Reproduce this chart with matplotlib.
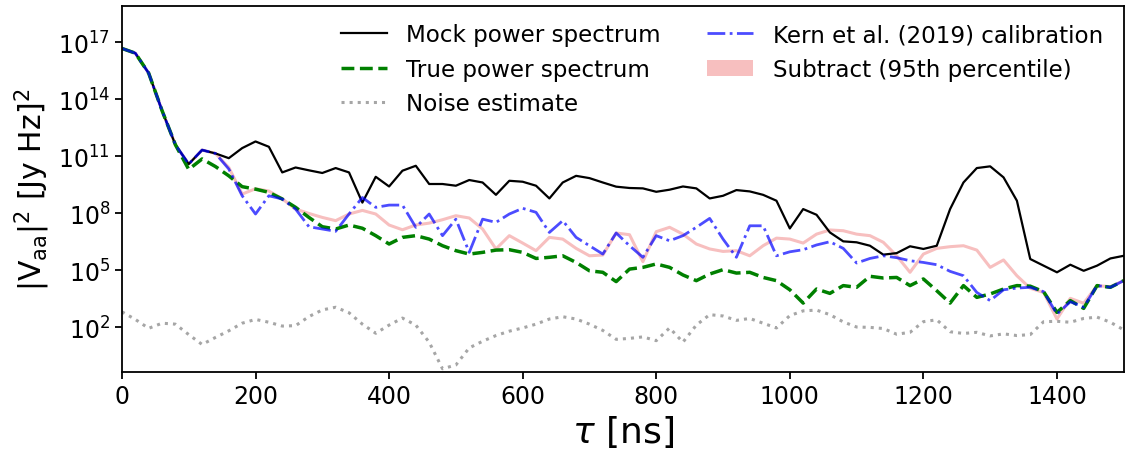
import matplotlib
matplotlib.use('Agg')
import matplotlib.pyplot as plt
from matplotlib.patches import Patch
import numpy as np

# delay axis (ns), one sample every 20 ns
tau = np.arange(0, 1501, 20)

# log10 of |V_aa|^2
mock_log = [16.67, 16.42, 15.37, 13.4, 11.6, 10.58, 11.32, 11.14, 10.89, 11.42,
            11.77, 11.49, 10.14, 10.40, 10.25, 10.11, 10.37, 10.14, 8.55, 9.91,
            9.40, 10.23, 10.49, 9.53, 9.53, 9.44, 9.74, 9.61, 8.96, 9.70,
            9.65, 9.44, 8.77, 9.61, 9.96, 9.84, 9.61, 9.39, 9.32, 9.30,
            9.12, 9.23, 9.40, 9.30, 8.77, 8.91, 9.21, 9.14, 8.96, 8.65,
            7.19, 8.21, 7.91, 6.98, 6.51, 6.46, 6.28, 5.81, 5.89, 6.25,
            6.11, 6.28, 8.21, 9.61, 10.37, 10.46, 9.88, 8.65, 5.58, 5.23,
            4.88, 5.28, 4.96, 5.23, 5.61, 5.75]

true_log = [16.67, 16.42, 15.37, 13.4, 11.6, 10.3, 10.85, 10.45, 9.96, 9.39,
            9.26, 9.09, 8.74, 8.30, 7.77, 7.28, 7.16, 7.37, 7.2, 6.81,
            6.37, 6.72, 6.81, 6.63, 6.28, 6.02, 5.84, 5.93, 6.05, 6.07,
            5.93, 5.61, 5.67, 5.75, 5.40, 4.96, 4.88, 4.39, 5.05, 5.14,
            5.32, 5.14, 4.74, 4.44, 4.79, 5.02, 4.84, 4.88, 4.61, 4.44,
            3.96, 3.26, 4.0, 3.77, 4.18, 4.09, 4.67, 4.58, 4.61, 4.18,
            4.53, 3.91, 3.26, 4.18, 3.56, 3.74, 4.0, 4.18, 4.15, 3.86,
            2.77, 3.39, 2.98, 4.18, 4.09, 4.44]

noise_log = [2.8, 2.4, 1.93, 2.2, 2.15, 1.6, 1.08, 1.45, 1.8, 2.2,
             2.4, 2.25, 2.05, 2.07, 2.55, 2.9, 3.04, 2.75, 2.15, 1.67,
             2.1, 2.47, 2.1, 1.2, -0.2, 0.0, 0.9, 1.25, 1.55, 1.78,
             1.95, 2.15, 2.42, 2.54, 2.42, 2.15, 1.82, 1.35, 1.4, 1.48,
             1.28, 1.95, 1.2, 2.1, 2.65, 2.58, 2.35, 2.45, 2.2, 1.95,
             2.6, 2.85, 2.89, 2.65, 2.27, 2.0, 1.98, 1.92, 1.62, 1.72,
             2.28, 2.38, 1.75, 1.66, 1.72, 1.53, 1.64, 1.55, 1.6, 2.28,
             2.3, 2.25, 2.45, 2.52, 2.25, 1.85]

kern_log = [16.67, 16.42, 15.37, 13.4, 11.6, 10.58, 11.32, 11.14, 10.32, 8.91,
            7.95, 8.91, 8.74, 8.21, 7.28, 7.16, 7.04, 7.95, 8.82, 8.30,
            8.42, 8.42, 7.25, 7.95, 6.81, 7.68, 5.93, 7.68, 7.51, 7.95,
            8.25, 8.04, 6.98, 7.6, 6.72, 6.28, 5.84, 6.95, 6.28, 5.67,
            6.81, 6.54, 6.81, 7.25, 7.72, 6.63, 5.67, 7.33, 7.33, 5.75,
            5.96, 6.07, 6.32, 6.49, 6.14, 5.37, 5.61, 5.75, 5.65, 5.49,
            5.40, 5.28, 4.93, 4.70, 3.82, 3.39, 3.96, 4.05, 4.09, 3.86,
            2.68, 3.33, 3.04, 4.18, 4.09, 4.44]

subtract_log = [16.67, 16.42, 15.37, 13.4, 11.6, 10.58, 11.32, 11.14, 10.40, 9.0,
                9.28, 9.16, 8.75, 8.21, 7.98, 7.77, 7.60, 7.95, 8.14, 7.95,
                7.37, 7.12, 7.37, 7.47, 7.65, 7.86, 7.74, 7.16, 6.11, 6.81,
                6.42, 6.02, 6.72, 6.63, 6.14, 5.75, 5.79, 6.95, 6.86, 5.44,
                7.02, 7.25, 6.89, 6.37, 6.11, 5.98, 6.02, 5.75, 6.28, 6.68,
                6.63, 6.42, 6.89, 7.11, 7.07, 6.89, 6.81, 6.46, 5.75, 4.88,
                5.84, 6.14, 6.23, 6.28, 6.05, 5.14, 5.53, 4.70, 4.04, 3.82,
                2.42, 3.51, 3.25, 4.18, 4.12, 4.44]

mock = 10.0 ** np.array(mock_log)
true = 10.0 ** np.array(true_log)
noise = 10.0 ** np.array(noise_log)
kern = 10.0 ** np.array(kern_log)
subtract = 10.0 ** np.array(subtract_log)

fig = plt.figure(figsize=(11.26, 4.56), dpi=100)
ax = fig.add_axes([0.1083, 0.182, 0.8897, 0.8025])

ax.plot(tau, subtract, color='lightcoral', alpha=0.5, lw=2.2, zorder=1)
l_noise, = ax.plot(tau, noise, color='gray', alpha=0.7, ls=':', lw=2.2)
l_mock, = ax.plot(tau, mock, color='k', lw=1.6)
l_true, = ax.plot(tau, true, color='green', ls='--', lw=2.5)
l_kern, = ax.plot(tau, kern, color='b', alpha=0.7, ls='-.', lw=2)

ax.set_yscale('log')
ax.set_xlim(0, 1500)
ax.set_ylim(10 ** -0.37, 10 ** 18.9)
ax.set_yticks([1e2, 1e5, 1e8, 1e11, 1e14, 1e17])
ax.minorticks_off()
ax.tick_params(labelsize=17, width=1.3, length=5)
for s in ax.spines.values():
    s.set_linewidth(1.3)

ax.set_xlabel(r'$\tau$ [ns]', fontsize=26)
ax.set_ylabel(r'|V$_{\rm aa}$|$^2$ [Jy Hz]$^2$', fontsize=21.5)

handles = [l_mock, l_true, l_noise, l_kern,
           Patch(facecolor='lightcoral', alpha=0.5)]
labels = ['Mock power spectrum', 'True power spectrum', 'Noise estimate',
          'Kern et al. (2019) calibration', 'Subtract (95th percentile)']
ax.legend(handles, labels, ncol=2, frameon=False, fontsize=16.6,
          loc='upper right', bbox_to_anchor=(1.0, 1.01),
          handlelength=2.0, handletextpad=0.85, columnspacing=2.0,
          labelspacing=0.5)

fig.savefig('out.png', dpi=100)
